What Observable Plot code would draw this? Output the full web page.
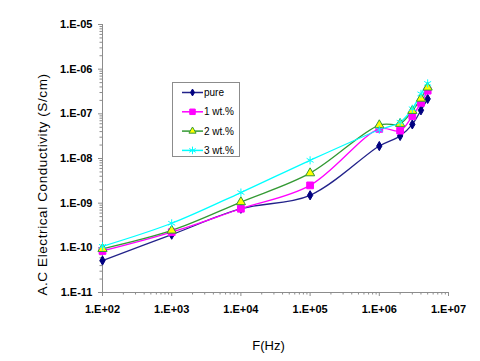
<!DOCTYPE html>
<html>
<head>
<meta charset="utf-8">
<script src="https://cdn.jsdelivr.net/npm/d3@7"></script>
<script src="https://cdn.jsdelivr.net/npm/@observablehq/plot@0.6"></script>
<style>
  html, body { margin: 0; padding: 0; background: #fff; }
  #wrap { position: relative; width: 480px; height: 361px; font-family: "Liberation Sans", Arial, sans-serif; }
  #legend { position: absolute; left: 172px; top: 82px; width: 68px; height: 75px; border: 1px solid #8c8c8c; background: #fff; box-sizing: border-box; }
</style>
</head>
<body>
<div id="wrap"><div id="legend"></div></div>
<script>
// Frequency (Hz)
const freq = [1e2, 1e3, 1e4, 1e5, 1e6, 2e6, 3e6, 4e6, 5e6];
// AC electrical conductivity (S/cm)
const pure = [5.2e-11, 1.97e-10, 7.5e-10, 1.5e-9, 1.9e-8, 3.2e-8, 5.8e-8, 1.2e-7, 2.16e-7];
const wt1  = [8.5e-11, 2.24e-10, 7.5e-10, 2.5e-9, 4.6e-8, 4.2e-8, 8.9e-8, 1.76e-7, 3.3e-7];
const wt2  = [9.5e-11, 2.45e-10, 1.06e-9, 4.7e-9, 5.6e-8, 6.0e-8, 1.17e-7, 2.2e-7, 3.9e-7];
const wt3  = [1.08e-10, 3.55e-10, 1.73e-9, 9.1e-9, 4.4e-8, 6.5e-8, 1.3e-7, 2.8e-7, 4.8e-7];
const seriesNames = ["pure", "1 wt.%", "2 wt.%", "3 wt.%"];
const xTickValues = [1e2, 1e3, 1e4, 1e5, 1e6, 1e7];
const yTickValues = [1e-11, 1e-10, 1e-9, 1e-8, 1e-7, 1e-6, 1e-5];
const xTitle = "F(Hz)";
const yTitle = "A.C Electrical Conductivity (S/cm)";

const seriesValues = [pure, wt1, wt2, wt3];
const lineColors = ["#22228a", "#ff00ff", "#339933", "#00ffff"];
const styles = [
  {symbol: "diamond", fill: "#000080", stroke: "#000080", r: 2.8},
  {symbol: "square", fill: "#ff00ff", stroke: "#ff00ff", r: 3.8},
  {symbol: "triangle", fill: "#ffff00", stroke: "#339933", r: 3.4},
  {symbol: "asterisk", fill: "none", stroke: "#00ffff", r: 3.8}
];

const rows = seriesValues.flatMap((vals, si) => vals.map((v, i) => ({s: seriesNames[si], f: freq[i], v})));

function minorTicks(majors) {
  const out = [];
  for (let i = 0; i < majors.length - 1; i++) for (let k = 2; k <= 9; k++) out.push(majors[i] * k);
  return out;
}
const fmt = d => { const e = Math.round(Math.log10(d)); return "1.E" + (e < 0 ? "-" : "+") + String(Math.abs(e)).padStart(2, "0"); };
const gray = "#8c8c8c";
const font = "'Liberation Sans', Arial, sans-serif";

const chart = Plot.plot({
  width: 480,
  height: 361,
  marginLeft: 102,
  marginRight: 32,
  marginTop: 24,
  marginBottom: 69,
  style: {fontFamily: font, background: "#fff", color: "#000"},
  x: {type: "log", domain: [1e2, 1e7]},
  y: {type: "log", domain: [1e-11, 1e-5]},
  color: {domain: seriesNames, range: lineColors},
  marks: [
    Plot.axisX(minorTicks(xTickValues), {tickSize: 2.5, stroke: gray, tickFormat: () => "", label: null}),
    Plot.axisY(minorTicks(yTickValues), {tickSize: 2.5, stroke: gray, tickFormat: () => "", label: null}),
    Plot.axisX(xTickValues, {tickSize: 4, tickPadding: 9, stroke: gray, fill: "#000", tickFormat: fmt, label: null, fontSize: 11, fontWeight: "bold"}),
    Plot.axisY(yTickValues, {tickSize: 4, tickPadding: 6, stroke: gray, fill: "#000", tickFormat: fmt, label: null, fontSize: 11, fontWeight: "bold"}),
    Plot.ruleY([1e-11], {stroke: gray}),
    Plot.ruleX([1e2], {stroke: gray}),
    Plot.line(rows, {x: "f", y: "v", z: "s", stroke: "s", strokeWidth: 1.3, curve: "catmull-rom"}),
    ...seriesNames.map((name, si) => Plot.dot(rows.filter(d => d.s === name), {
      x: "f", y: "v", symbol: () => styles[si].symbol, r: styles[si].r,
      fill: styles[si].fill, stroke: styles[si].stroke, strokeWidth: 1
    })),
    Plot.text([xTitle], {frameAnchor: "bottom", textAnchor: "middle", dx: -7, dy: 57, fontSize: 13, fill: "#000"}),
    Plot.text([yTitle], {frameAnchor: "left", textAnchor: "middle", dx: -60, dy: 26, rotate: -90, fontSize: 13.5, fill: "#000"})
  ]
});
d3.select(chart).selectAll("text").filter(function() { return this.textContent === yTitle; })
  .attr("letter-spacing", "0.6px");
document.getElementById("wrap").prepend(chart);

// Legend
const lg = d3.select("#legend").append("svg").attr("width", 66).attr("height", 73)
  .style("position", "absolute").style("left", "0").style("top", "0");
seriesNames.forEach((name, i) => {
  const y = 9.5 + i * 19.3;
  lg.append("line").attr("x1", 9).attr("x2", 30).attr("y1", y).attr("y2", y)
    .attr("stroke", lineColors[i]).attr("stroke-width", 1.5);
  const symType = [d3.symbolDiamond, d3.symbolSquare, d3.symbolTriangle, d3.symbolAsterisk][i];
  const size = [14, 30, 22, 40][i];
  lg.append("path").attr("d", d3.symbol(symType, size)())
    .attr("transform", `translate(19.5,${y})`)
    .attr("fill", styles[i].fill).attr("stroke", styles[i].stroke).attr("stroke-width", 1);
  lg.append("text").attr("x", 31).attr("y", y).attr("dy", "0.35em")
    .attr("font-size", 10).attr("font-family", font).text(name);
});
</script>
</body>
</html>
